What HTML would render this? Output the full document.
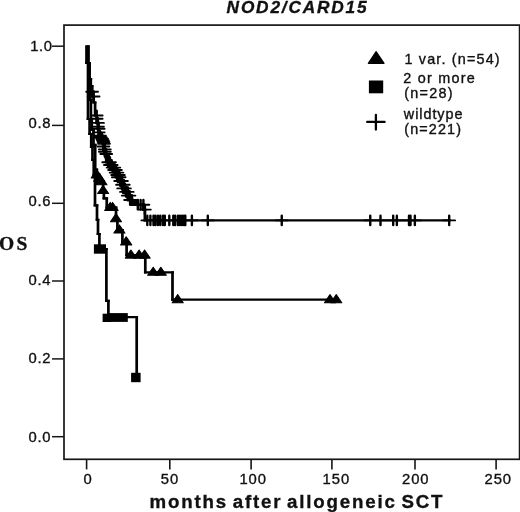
<!DOCTYPE html>
<html lang="en">
<head>
<meta charset="utf-8">
<title>NOD2/CARD15 overall survival</title>
<style>
html,body{margin:0;padding:0;background:#fff;}
body{width:520px;height:512px;overflow:hidden;}
svg{display:block;filter:blur(0.35px);}
.sa{font-family:"Liberation Sans",Arial,Helvetica,sans-serif;}
.se{font-family:"Liberation Serif","Times New Roman",Times,serif;}
</style>
</head>
<body>
<svg width="520" height="512" viewBox="0 0 520 512">
<rect width="520" height="512" fill="#fff"/>
<rect x="64.0" y="25.1" width="455.6" height="434.2" fill="none" stroke="#161616" stroke-width="1.7"/>
<line x1="52" y1="46.2" x2="64.0" y2="46.2" stroke="#161616" stroke-width="1.5"/>
<line x1="52" y1="125.4" x2="64.0" y2="125.4" stroke="#161616" stroke-width="1.5"/>
<line x1="52" y1="203.3" x2="64.0" y2="203.3" stroke="#161616" stroke-width="1.5"/>
<line x1="52" y1="281.0" x2="64.0" y2="281.0" stroke="#161616" stroke-width="1.5"/>
<line x1="52" y1="358.9" x2="64.0" y2="358.9" stroke="#161616" stroke-width="1.5"/>
<line x1="52" y1="436.7" x2="64.0" y2="436.7" stroke="#161616" stroke-width="1.5"/>
<line x1="86.6" y1="459.3" x2="86.6" y2="469.4" stroke="#161616" stroke-width="1.6"/>
<line x1="169.8" y1="459.3" x2="169.8" y2="469.4" stroke="#161616" stroke-width="1.6"/>
<line x1="251.1" y1="459.3" x2="251.1" y2="469.4" stroke="#161616" stroke-width="1.6"/>
<line x1="331.9" y1="459.3" x2="331.9" y2="469.4" stroke="#161616" stroke-width="1.6"/>
<line x1="415.0" y1="459.3" x2="415.0" y2="469.4" stroke="#161616" stroke-width="1.6"/>
<line x1="496.1" y1="459.3" x2="496.1" y2="469.4" stroke="#161616" stroke-width="1.6"/>
<text transform="translate(30.2 50.5) scale(1.0 1.0)" class="sa" font-size="14.8" font-weight="normal" font-style="normal" letter-spacing="0.6" word-spacing="0" text-anchor="start" fill="#111" stroke="#111" stroke-width="0.35">1.0</text>
<text transform="translate(28.6 128.3) scale(1.0 1.0)" class="sa" font-size="14.8" font-weight="normal" font-style="normal" letter-spacing="0.6" word-spacing="0" text-anchor="start" fill="#111" stroke="#111" stroke-width="0.35">0.8</text>
<text transform="translate(28.6 206.1) scale(1.0 1.0)" class="sa" font-size="14.8" font-weight="normal" font-style="normal" letter-spacing="0.6" word-spacing="0" text-anchor="start" fill="#111" stroke="#111" stroke-width="0.35">0.6</text>
<text transform="translate(28.6 285.4) scale(1.0 1.0)" class="sa" font-size="14.8" font-weight="normal" font-style="normal" letter-spacing="0.6" word-spacing="0" text-anchor="start" fill="#111" stroke="#111" stroke-width="0.35">0.4</text>
<text transform="translate(28.6 363.0) scale(1.0 1.0)" class="sa" font-size="14.8" font-weight="normal" font-style="normal" letter-spacing="0.6" word-spacing="0" text-anchor="start" fill="#111" stroke="#111" stroke-width="0.35">0.2</text>
<text transform="translate(28.6 441.6) scale(1.0 1.0)" class="sa" font-size="14.8" font-weight="normal" font-style="normal" letter-spacing="0.6" word-spacing="0" text-anchor="start" fill="#111" stroke="#111" stroke-width="0.35">0.0</text>
<text transform="translate(83.4 483.9) scale(1.0 1.0)" class="sa" font-size="14.8" font-weight="normal" font-style="normal" letter-spacing="0.95" word-spacing="0" text-anchor="start" fill="#111" stroke="#111" stroke-width="0.35">0</text>
<text transform="translate(160.7 483.9) scale(1.0 1.0)" class="sa" font-size="14.8" font-weight="normal" font-style="normal" letter-spacing="0.95" word-spacing="0" text-anchor="start" fill="#111" stroke="#111" stroke-width="0.35">50</text>
<text transform="translate(239.4 483.9) scale(1.0 1.0)" class="sa" font-size="14.8" font-weight="normal" font-style="normal" letter-spacing="0.95" word-spacing="0" text-anchor="start" fill="#111" stroke="#111" stroke-width="0.35">100</text>
<text transform="translate(322.6 483.9) scale(1.0 1.0)" class="sa" font-size="14.8" font-weight="normal" font-style="normal" letter-spacing="0.95" word-spacing="0" text-anchor="start" fill="#111" stroke="#111" stroke-width="0.35">150</text>
<text transform="translate(402.0 483.9) scale(1.0 1.0)" class="sa" font-size="14.8" font-weight="normal" font-style="normal" letter-spacing="0.95" word-spacing="0" text-anchor="start" fill="#111" stroke="#111" stroke-width="0.35">200</text>
<text transform="translate(484.5 483.9) scale(1.0 1.0)" class="sa" font-size="14.8" font-weight="normal" font-style="normal" letter-spacing="0.95" word-spacing="0" text-anchor="start" fill="#111" stroke="#111" stroke-width="0.35">250</text>
<text transform="translate(226.6 12.5) scale(1.0 1.0)" class="sa" font-size="17.3" font-weight="bold" font-style="italic" letter-spacing="1.8" word-spacing="0" text-anchor="start" fill="#111" stroke="#111" stroke-width="0.35">NOD2/CARD15</text>
<text transform="translate(149.5 507.6) scale(1.0 1.0)" class="sa" font-size="18.7" font-weight="bold" font-style="normal" letter-spacing="1.84" word-spacing="-2.4" text-anchor="start" fill="#111" stroke="#111" stroke-width="0.35">months after allogeneic SCT</text>
<text transform="translate(-1.0 249.9) scale(1.0 1.0)" class="se" font-size="19.5" font-weight="bold" font-style="normal" letter-spacing="2.4" word-spacing="0" text-anchor="start" fill="#111" stroke="#111" stroke-width="0.35">OS</text>
<text transform="translate(404.5 63.5) scale(1.036 1.0)" class="sa" font-size="13.9" font-weight="normal" font-style="normal" letter-spacing="1.125" word-spacing="0" text-anchor="start" fill="#111" stroke="#111" stroke-width="0.35">1 var. (n=54)</text>
<text transform="translate(403.2 82.8) scale(1.036 1.0)" class="sa" font-size="13.9" font-weight="normal" font-style="normal" letter-spacing="1.215" word-spacing="0" text-anchor="start" fill="#111" stroke="#111" stroke-width="0.35">2 or more</text>
<text transform="translate(404.3 98.2) scale(1.036 1.0)" class="sa" font-size="13.9" font-weight="normal" font-style="normal" letter-spacing="1.205" word-spacing="0" text-anchor="start" fill="#111" stroke="#111" stroke-width="0.35">(n=28)</text>
<text transform="translate(403.8 119.0) scale(1.036 1.0)" class="sa" font-size="13.9" font-weight="normal" font-style="normal" letter-spacing="0.915" word-spacing="0" text-anchor="start" fill="#111" stroke="#111" stroke-width="0.35">wildtype</text>
<text transform="translate(404.3 133.6) scale(1.036 1.0)" class="sa" font-size="13.9" font-weight="normal" font-style="normal" letter-spacing="1.085" word-spacing="0" text-anchor="start" fill="#111" stroke="#111" stroke-width="0.35">(n=221)</text>
<polygon points="376.11,51.67 384.06,63.30 368.32,63.30" fill="#000" stroke="#000" stroke-width="1.2" stroke-linejoin="round"/>
<rect x="368.9" y="80.5" width="14.3" height="12.8" fill="#000"/>
<path d="M367.2 121.9H384.6M375.9 114.9V129.6" stroke="#000" stroke-width="2.3" stroke-linecap="round" fill="none"/>
<path d="M86.5 45.30V64.10M88.0 61.90V120.10M89.6 117.90V135.10M91.25 132.90V148.10M92.5 145.90V161.10M93.75 158.90V176.10M95.0 173.90V206.50M97.0 204.30V220.85M98.0 218.65V235.10M99.4 232.90V250.10M106.4 247.90V302.00M108.4 299.80V318.30M136.7 316.10V378.60" fill="none" stroke="#000" stroke-width="2.7"/>
<path d="M85.15 63H89.35M86.65 119H90.95M88.25 134H92.60M89.90 147H93.85M91.15 160H95.10M92.40 175H96.35M93.65 205.4H98.35M95.65 219.75H99.35M96.65 234H100.75M98.05 249H107.75M105.05 300.9H109.75M107.05 317.2H138.05" fill="none" stroke="#000" stroke-width="2.2"/>
<rect x="93.9" y="244.3" width="12.10" height="9.40" fill="#000"/>
<rect x="102.6" y="313.7" width="8.40" height="8.30" fill="#000"/>
<rect x="109" y="313.1" width="18.80" height="8.80" fill="#000"/>
<rect x="131.1" y="372.8" width="9.50" height="9.40" fill="#000"/>
<path d="M88.3 45.30V64.10M89.5 61.90V80.10M90.3 77.90V101.10M90.9 98.90V120.10M91.75 117.90V130.80M93.5 128.60V145.90M95.2 143.70V170.60M96.8 168.40V176.00M99.2 173.80V179.40M101.4 177.20V182.80M103.1 180.60V191.60M103.9 189.40V199.50M106.75 197.30V208.60M116.0 206.40V219.80M117.4 217.60V231.10M122.4 228.90V243.00M126.6 240.80V256.20M145.3 254.00V273.40M172.5 271.20V300.80" fill="none" stroke="#000" stroke-width="2.7"/>
<path d="M86.95 63H90.85M88.15 79H91.65M88.95 100H92.25M89.55 119H93.10M90.40 129.7H94.85M92.15 144.8H96.55M93.85 169.5H98.15M95.45 174.9H100.55M97.85 178.3H102.75M100.05 181.7H104.45M101.75 190.5H105.25M102.55 198.4H108.10M105.40 207.5H117.35M114.65 218.7H118.75M116.05 230.0H123.75M121.05 241.9H127.95M125.25 255.1H146.65M143.95 272.3H173.85M171.15 299.7H337.35" fill="none" stroke="#000" stroke-width="2.2"/>
<rect x="95.5" y="177" width="2.5" height="8" fill="#000"/>
<polygon points="96.80,169.85 102.34,177.90 91.26,177.90" fill="#000" stroke="#000" stroke-width="1.1" stroke-linejoin="round"/>
<polygon points="99.20,173.25 104.74,181.30 93.66,181.30" fill="#000" stroke="#000" stroke-width="1.1" stroke-linejoin="round"/>
<polygon points="101.40,176.65 106.94,184.70 95.86,184.70" fill="#000" stroke="#000" stroke-width="1.1" stroke-linejoin="round"/>
<polygon points="103.10,185.45 108.64,193.50 97.56,193.50" fill="#000" stroke="#000" stroke-width="1.1" stroke-linejoin="round"/>
<polygon points="110.20,202.45 115.74,210.50 104.66,210.50" fill="#000" stroke="#000" stroke-width="1.1" stroke-linejoin="round"/>
<polygon points="112.60,202.45 118.14,210.50 107.06,210.50" fill="#000" stroke="#000" stroke-width="1.1" stroke-linejoin="round"/>
<polygon points="116.00,213.65 121.54,221.70 110.46,221.70" fill="#000" stroke="#000" stroke-width="1.1" stroke-linejoin="round"/>
<polygon points="119.40,224.95 124.94,233.00 113.86,233.00" fill="#000" stroke="#000" stroke-width="1.1" stroke-linejoin="round"/>
<polygon points="126.20,236.85 131.74,244.90 120.66,244.90" fill="#000" stroke="#000" stroke-width="1.1" stroke-linejoin="round"/>
<polygon points="130.90,250.05 136.44,258.10 125.36,258.10" fill="#000" stroke="#000" stroke-width="1.1" stroke-linejoin="round"/>
<polygon points="139.10,250.05 144.64,258.10 133.56,258.10" fill="#000" stroke="#000" stroke-width="1.1" stroke-linejoin="round"/>
<polygon points="144.60,250.05 150.14,258.10 139.06,258.10" fill="#000" stroke="#000" stroke-width="1.1" stroke-linejoin="round"/>
<polygon points="153.20,267.25 158.74,275.30 147.66,275.30" fill="#000" stroke="#000" stroke-width="1.1" stroke-linejoin="round"/>
<polygon points="160.80,267.25 166.34,275.30 155.26,275.30" fill="#000" stroke="#000" stroke-width="1.1" stroke-linejoin="round"/>
<polygon points="177.70,294.65 183.24,302.70 172.16,302.70" fill="#000" stroke="#000" stroke-width="1.1" stroke-linejoin="round"/>
<polygon points="330.00,294.65 335.54,302.70 324.46,302.70" fill="#000" stroke="#000" stroke-width="1.1" stroke-linejoin="round"/>
<polygon points="336.25,294.65 341.79,302.70 330.71,302.70" fill="#000" stroke="#000" stroke-width="1.1" stroke-linejoin="round"/>
<path d="M88.3 45.30V64.10M89.5 61.90V80.10M90.8 77.90V87.10M92.1 84.90V92.85M93.3 90.65V98.00M93.7 95.80V103.60M95.1 101.40V116.60M96.7 114.40V119.90M96.7 117.70V124.00M98 121.80V127.70M98 125.50V129.80M98.7 127.60V133.50M98.7 131.30V136.70M100 134.50V138.30M100.8 136.10V139.80M102.1 137.60V141.50M102.9 139.30V143.10M103.5 140.90V144.85M104 142.65V147.60M103.4 145.40V150.50M104.85 148.30V152.80M104.85 150.60V155.10M106.25 152.90V163.35M110.0 161.15V166.10M111.7 163.90V168.70M114.35000000000001 166.50V171.10M115.9 168.90V173.70M117.4 171.50V176.10M118.9 173.90V178.35M119.65 176.15V182.10M121.95 179.90V185.80M123.80000000000001 183.60V189.50M124.95 187.30V193.00M127.75 190.80V196.70M129.5 194.50V201.10M131.9 198.90V205.80M143.4 203.60V210.70M144.9 208.50V221.50" fill="none" stroke="#000" stroke-width="2.7"/>
<path d="M86.95 63H90.85M88.15 79H92.15M89.45 86H93.45M90.75 91.75H94.65M91.95 96.9H95.05M92.35 102.5H96.45M93.75 115.5H98.05M95.35 122.9H99.35M96.65 128.7H100.05M97.35 135.6H101.35M98.65 137.2H102.15M99.45 138.7H103.45M100.75 140.4H104.25M101.55 142.0H104.85M102.15 143.75H105.35M102.05 146.5H105.35M102.05 149.4H106.20M103.50 154.0H107.60M104.90 162.25H109.55M106.85 162.25H111.35M108.55 165H111.35M108.55 165H113.05M110.35 167.6H113.90M111.20 167.6H115.70M112.75 170H115.70M112.75 170H117.25M114.25 172.6H117.25M114.25 172.6H118.75M115.75 175H118.75M115.75 175H120.25M116.50 177.25H120.25M116.50 177.25H121.00M118.30 181H121.50M118.80 181H123.30M120.60 184.7H123.35M120.65 184.7H125.15M121.80 188.4H125.15M121.80 188.4H126.30M123.60 191.9H127.30M124.60 191.9H129.10M126.35 195.6H129.10M126.35 195.6H130.85M128.15 200H131.45M128.75 200H133.25M130.55 204.7H139.15M136.45 204.7H141.95M139.25 204.7H144.75M142.05 209.6H146.25M143.55 220.4H450.55" fill="none" stroke="#000" stroke-width="2.2"/>
<rect x="130.3" y="199.1" width="8" height="6.6" fill="#000"/>
<path d="M106.3 154 L109.1 162.25 L110.8 165 L113.45 167.6 L115.0 170 L116.5 172.6 L118.0 175 L118.75 177.25 L121.05 181 L122.9 184.7 L124.05 188.4 L126.85 191.9 L128.6 195.6 L131.0 200" fill="none" stroke="#000" stroke-width="6.0"/>
<path d="M86.20 91.75h11.8M87.70 96.50h11.8M90.80 115.50h11.8M90.80 118.80h11.8M92.10 122.90h11.8M92.10 126.60h11.8M92.80 128.70h11.8M92.80 132.40h11.8M94.10 135.60h11.8M94.90 137.20h11.8M96.20 138.70h11.8M97.00 140.40h11.8M97.60 142.00h11.8M98.10 143.75h11.8M97.50 146.50h11.8M98.95 149.40h11.8M98.95 151.70h11.8M100.35 154.00h11.8M102.30 162.25h11.8M104.10 162.25h11.8M104.00 165.00h11.8M105.80 165.00h11.8M106.65 167.60h11.8M108.45 167.60h11.8M108.20 170.00h11.8M110.00 170.00h11.8M109.70 172.60h11.8M111.50 172.60h11.8M111.20 175.00h11.8M113.00 175.00h11.8M111.95 177.25h11.8M113.75 177.25h11.8M114.25 181.00h11.8M116.05 181.00h11.8M116.10 184.70h11.8M117.90 184.70h11.8M117.25 188.40h11.8M119.05 188.40h11.8M120.05 191.90h11.8M121.85 191.90h11.8M121.80 195.60h11.8M123.60 195.60h11.8M124.20 200.00h11.8M126.00 200.00h11.8M131.90 204.70h11.8M134.70 204.70h11.8M137.50 204.70h11.8M139.00 209.60h11.8M141.40 220.40h11.8M144.50 220.40h11.8M147.60 220.40h11.8M149.60 220.40h11.8M152.10 220.40h11.8M154.40 220.40h11.8M157.10 220.40h11.8M158.90 220.40h11.8M163.40 220.40h11.8M167.40 220.40h11.8M169.30 220.40h11.8M172.10 220.40h11.8M174.10 220.40h11.8M176.10 220.40h11.8M178.10 220.40h11.8M179.40 220.40h11.8M186.00 220.40h11.8M201.90 220.40h11.8M275.85 220.40h11.8M364.35 220.40h11.8M374.60 220.40h11.8M387.30 220.40h11.8M390.95 220.40h11.8M403.10 220.40h11.8M404.60 220.40h11.8M408.95 220.40h11.8M443.30 220.40h11.8" fill="none" stroke="#000" stroke-width="1.9" stroke-linecap="round"/>
<path d="M92.10 87.05v9.4M93.60 91.80v9.4M96.70 110.80v9.4M96.70 114.10v9.4M98.00 118.20v9.4M98.00 121.90v9.4M98.70 124.00v9.4M98.70 127.70v9.4M100.00 130.90v9.4M100.80 132.50v9.4M102.10 134.00v9.4M102.90 135.70v9.4M103.50 137.30v9.4M104.00 139.05v9.4M103.40 141.80v9.4M104.85 144.70v9.4M104.85 147.00v9.4M106.25 149.30v9.4M108.20 157.55v9.4M110.00 157.55v9.4M109.90 160.30v9.4M111.70 160.30v9.4M112.55 162.90v9.4M114.35 162.90v9.4M114.10 165.30v9.4M115.90 165.30v9.4M115.60 167.90v9.4M117.40 167.90v9.4M117.10 170.30v9.4M118.90 170.30v9.4M117.85 172.55v9.4M119.65 172.55v9.4M120.15 176.30v9.4M121.95 176.30v9.4M122.00 180.00v9.4M123.80 180.00v9.4M123.15 183.70v9.4M124.95 183.70v9.4M125.95 187.20v9.4M127.75 187.20v9.4M127.70 190.90v9.4M129.50 190.90v9.4M130.10 195.30v9.4M131.90 195.30v9.4M137.80 200.00v9.4M140.60 200.00v9.4M143.40 200.00v9.4M144.90 204.90v9.4M147.30 215.70v9.4M150.40 215.70v9.4M153.50 215.70v9.4M155.50 215.70v9.4M158.00 215.70v9.4M160.30 215.70v9.4M163.00 215.70v9.4M164.80 215.70v9.4M169.30 215.70v9.4M173.30 215.70v9.4M175.20 215.70v9.4M178.00 215.70v9.4M180.00 215.70v9.4M182.00 215.70v9.4M184.00 215.70v9.4M185.30 215.70v9.4M191.90 215.70v9.4M207.80 215.70v9.4M281.75 215.70v9.4M370.25 215.70v9.4M380.50 215.70v9.4M393.20 215.70v9.4M396.85 215.70v9.4M409.00 215.70v9.4M410.50 215.70v9.4M414.85 215.70v9.4M449.20 215.70v9.4" fill="none" stroke="#000" stroke-width="2.4" stroke-linecap="round"/>
</svg>
</body>
</html>
